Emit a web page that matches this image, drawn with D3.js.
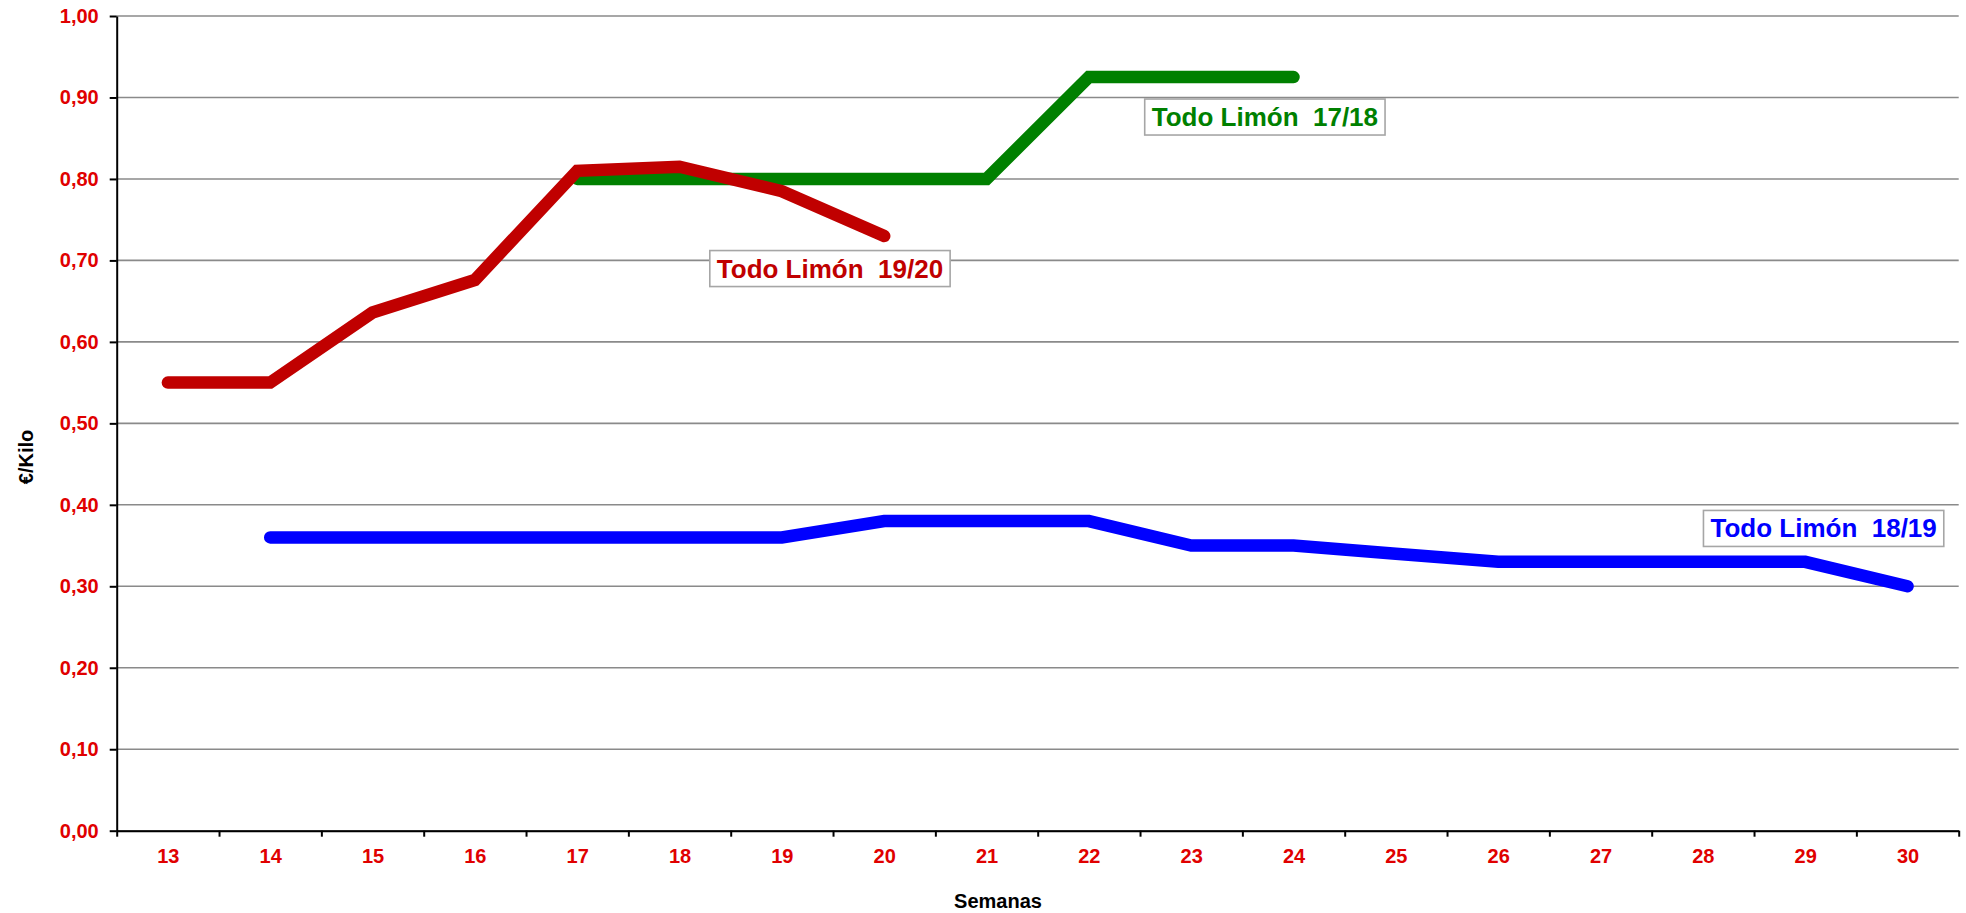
<!DOCTYPE html>
<html>
<head>
<meta charset="utf-8">
<script src="https://cdn.jsdelivr.net/npm/d3@7"></script>
<style>
  body { margin: 0; background: #fff; }
  text { font-family: "Liberation Sans", Arial, sans-serif; font-weight: bold; }
</style>
</head>
<body>
<div id="chart"></div>
<script>
// data
var weeks = d3.range(13, 31);
var yTicks = [0, 0.1, 0.2, 0.3, 0.4, 0.5, 0.6, 0.7, 0.8, 0.9, 1.0];

var weeks1920 = [13, 14, 15, 16, 17, 18, 19, 20];
var values1920 = [0.55, 0.55, 0.636, 0.676, 0.81, 0.815, 0.785, 0.73];

var weeks1718 = [17, 18, 19, 20, 21, 22, 23, 24];
var values1718 = [0.80, 0.80, 0.80, 0.80, 0.80, 0.925, 0.925, 0.925];

var weeks1819 = [14, 15, 16, 17, 18, 19, 20, 21, 22, 23, 24, 25, 26, 27, 28, 29, 30];
var values1819 = [0.36, 0.36, 0.36, 0.36, 0.36, 0.36, 0.38, 0.38, 0.38, 0.35, 0.35, 0.34, 0.33, 0.33, 0.33, 0.33, 0.30];

var seriesNames = ["Todo Limón 17/18", "Todo Limón 18/19", "Todo Limón 19/20"];

var svgWidth = 1966;
var svgHeight = 913;

var margin = { top: 16, right: 7.3, bottom: 82.3, left: 116.7 };
var width = svgWidth - margin.left - margin.right;
var height = svgHeight - margin.top - margin.bottom;

var svg = d3.select("#chart")
  .append("svg")
  .attr("width", svgWidth)
  .attr("height", svgHeight);

var chartGroup = svg.append("g")
  .attr("transform", `translate(${margin.left}, ${margin.top})`);

// weeks sit in the middle of each category slot
var xScale = d3.scaleLinear().domain([12.5, 30.5]).range([0, width]);
var yScale = d3.scaleLinear().domain([0, 1]).range([height, 0]);

// gridlines
chartGroup.append("g")
  .selectAll("line")
  .data(yTicks)
  .enter()
  .append("line")
  .attr("x1", 0)
  .attr("x2", width)
  .attr("y1", d => yScale(d))
  .attr("y2", d => yScale(d))
  .attr("stroke", "#8a8a8a")
  .attr("stroke-width", 1.6);

// y axis
var leftAxis = d3.axisLeft(yScale)
  .tickValues(yTicks)
  .tickFormat(d => d3.format(".2f")(d).replace(".", ","))
  .tickSizeInner(7)
  .tickSizeOuter(0)
  .tickPadding(11);

var yAxis = chartGroup.append("g").call(leftAxis);
yAxis.select(".domain").attr("stroke", "#000").attr("stroke-width", 2);
yAxis.selectAll(".tick line").attr("stroke", "#000").attr("stroke-width", 2);
yAxis.selectAll("text")
  .attr("fill", "#e00000")
  .style("font-size", "20px");

// x axis: boundary ticks
var tickAxis = d3.axisBottom(xScale)
  .tickValues(d3.range(12.5, 31, 1))
  .tickFormat("")
  .tickSizeInner(6)
  .tickSizeOuter(0);

var xAxis = chartGroup.append("g")
  .attr("transform", `translate(0, ${height})`)
  .call(tickAxis);
xAxis.select(".domain").attr("stroke", "#000").attr("stroke-width", 2);
xAxis.selectAll(".tick line").attr("stroke", "#000").attr("stroke-width", 2);

// x axis: labels centred in each slot
var labelAxis = d3.axisBottom(xScale)
  .tickValues(weeks)
  .tickFormat(d3.format("d"))
  .tickSize(0)
  .tickPadding(18.3);

var xLabels = chartGroup.append("g")
  .attr("transform", `translate(0, ${height})`)
  .call(labelAxis);
xLabels.select(".domain").remove();
xLabels.selectAll("text")
  .attr("fill", "#e00000")
  .style("font-size", "20px");

// axis titles
svg.append("text")
  .attr("x", 998)
  .attr("y", 908)
  .attr("text-anchor", "middle")
  .style("font-size", "20px")
  .attr("fill", "#000")
  .text("Semanas");

svg.append("text")
  .attr("transform", "translate(33, 457) rotate(-90)")
  .attr("text-anchor", "middle")
  .style("font-size", "20px")
  .attr("fill", "#000")
  .text("€/Kilo");

// lines
var line = d3.line()
  .x(d => xScale(d[0]))
  .y(d => yScale(d[1]));

var series = [
  { name: seriesNames[1], weeks: weeks1819, values: values1819, color: "#0000ff" },
  { name: seriesNames[0], weeks: weeks1718, values: values1718, color: "#008000" },
  { name: seriesNames[2], weeks: weeks1920, values: values1920, color: "#c00000" }
];

series.forEach(function(s) {
  chartGroup.append("path")
    .datum(d3.zip(s.weeks, s.values))
    .attr("d", line)
    .attr("fill", "none")
    .attr("stroke", s.color)
    .attr("stroke-width", 12.5)
    .attr("stroke-linecap", "round")
    .attr("stroke-linejoin", "miter");
});

// series labels, anchored by box centre in week / value units
var labelSpots = [
  { i: 2, wk: 19.47, val: 0.690 },
  { i: 0, wk: 23.72, val: 0.876 },
  { i: 1, wk: 29.18, val: 0.371 }
];

labelSpots.forEach(function(l) {
  var s = series.find(d => d.name === seriesNames[l.i]);
  var cx = xScale(l.wk);
  var cy = yScale(l.val);
  var g = chartGroup.append("g");
  var box = g.append("rect")
    .attr("fill", "#fff")
    .attr("stroke", "#a6a6a6")
    .attr("stroke-width", 1.6);
  var t = g.append("text")
    .attr("x", cx)
    .attr("y", cy + 9)
    .attr("text-anchor", "middle")
    .style("font-size", "26px")
    .style("white-space", "pre")
    .attr("fill", s.color)
    .text(s.name.replace(/ (\d)/, "\u00a0 $1"));
  var w = t.node().getComputedTextLength();
  box.attr("x", cx - w / 2 - 7)
    .attr("y", cy - 18)
    .attr("width", w + 14)
    .attr("height", 36);
});
</script>
</body>
</html>
